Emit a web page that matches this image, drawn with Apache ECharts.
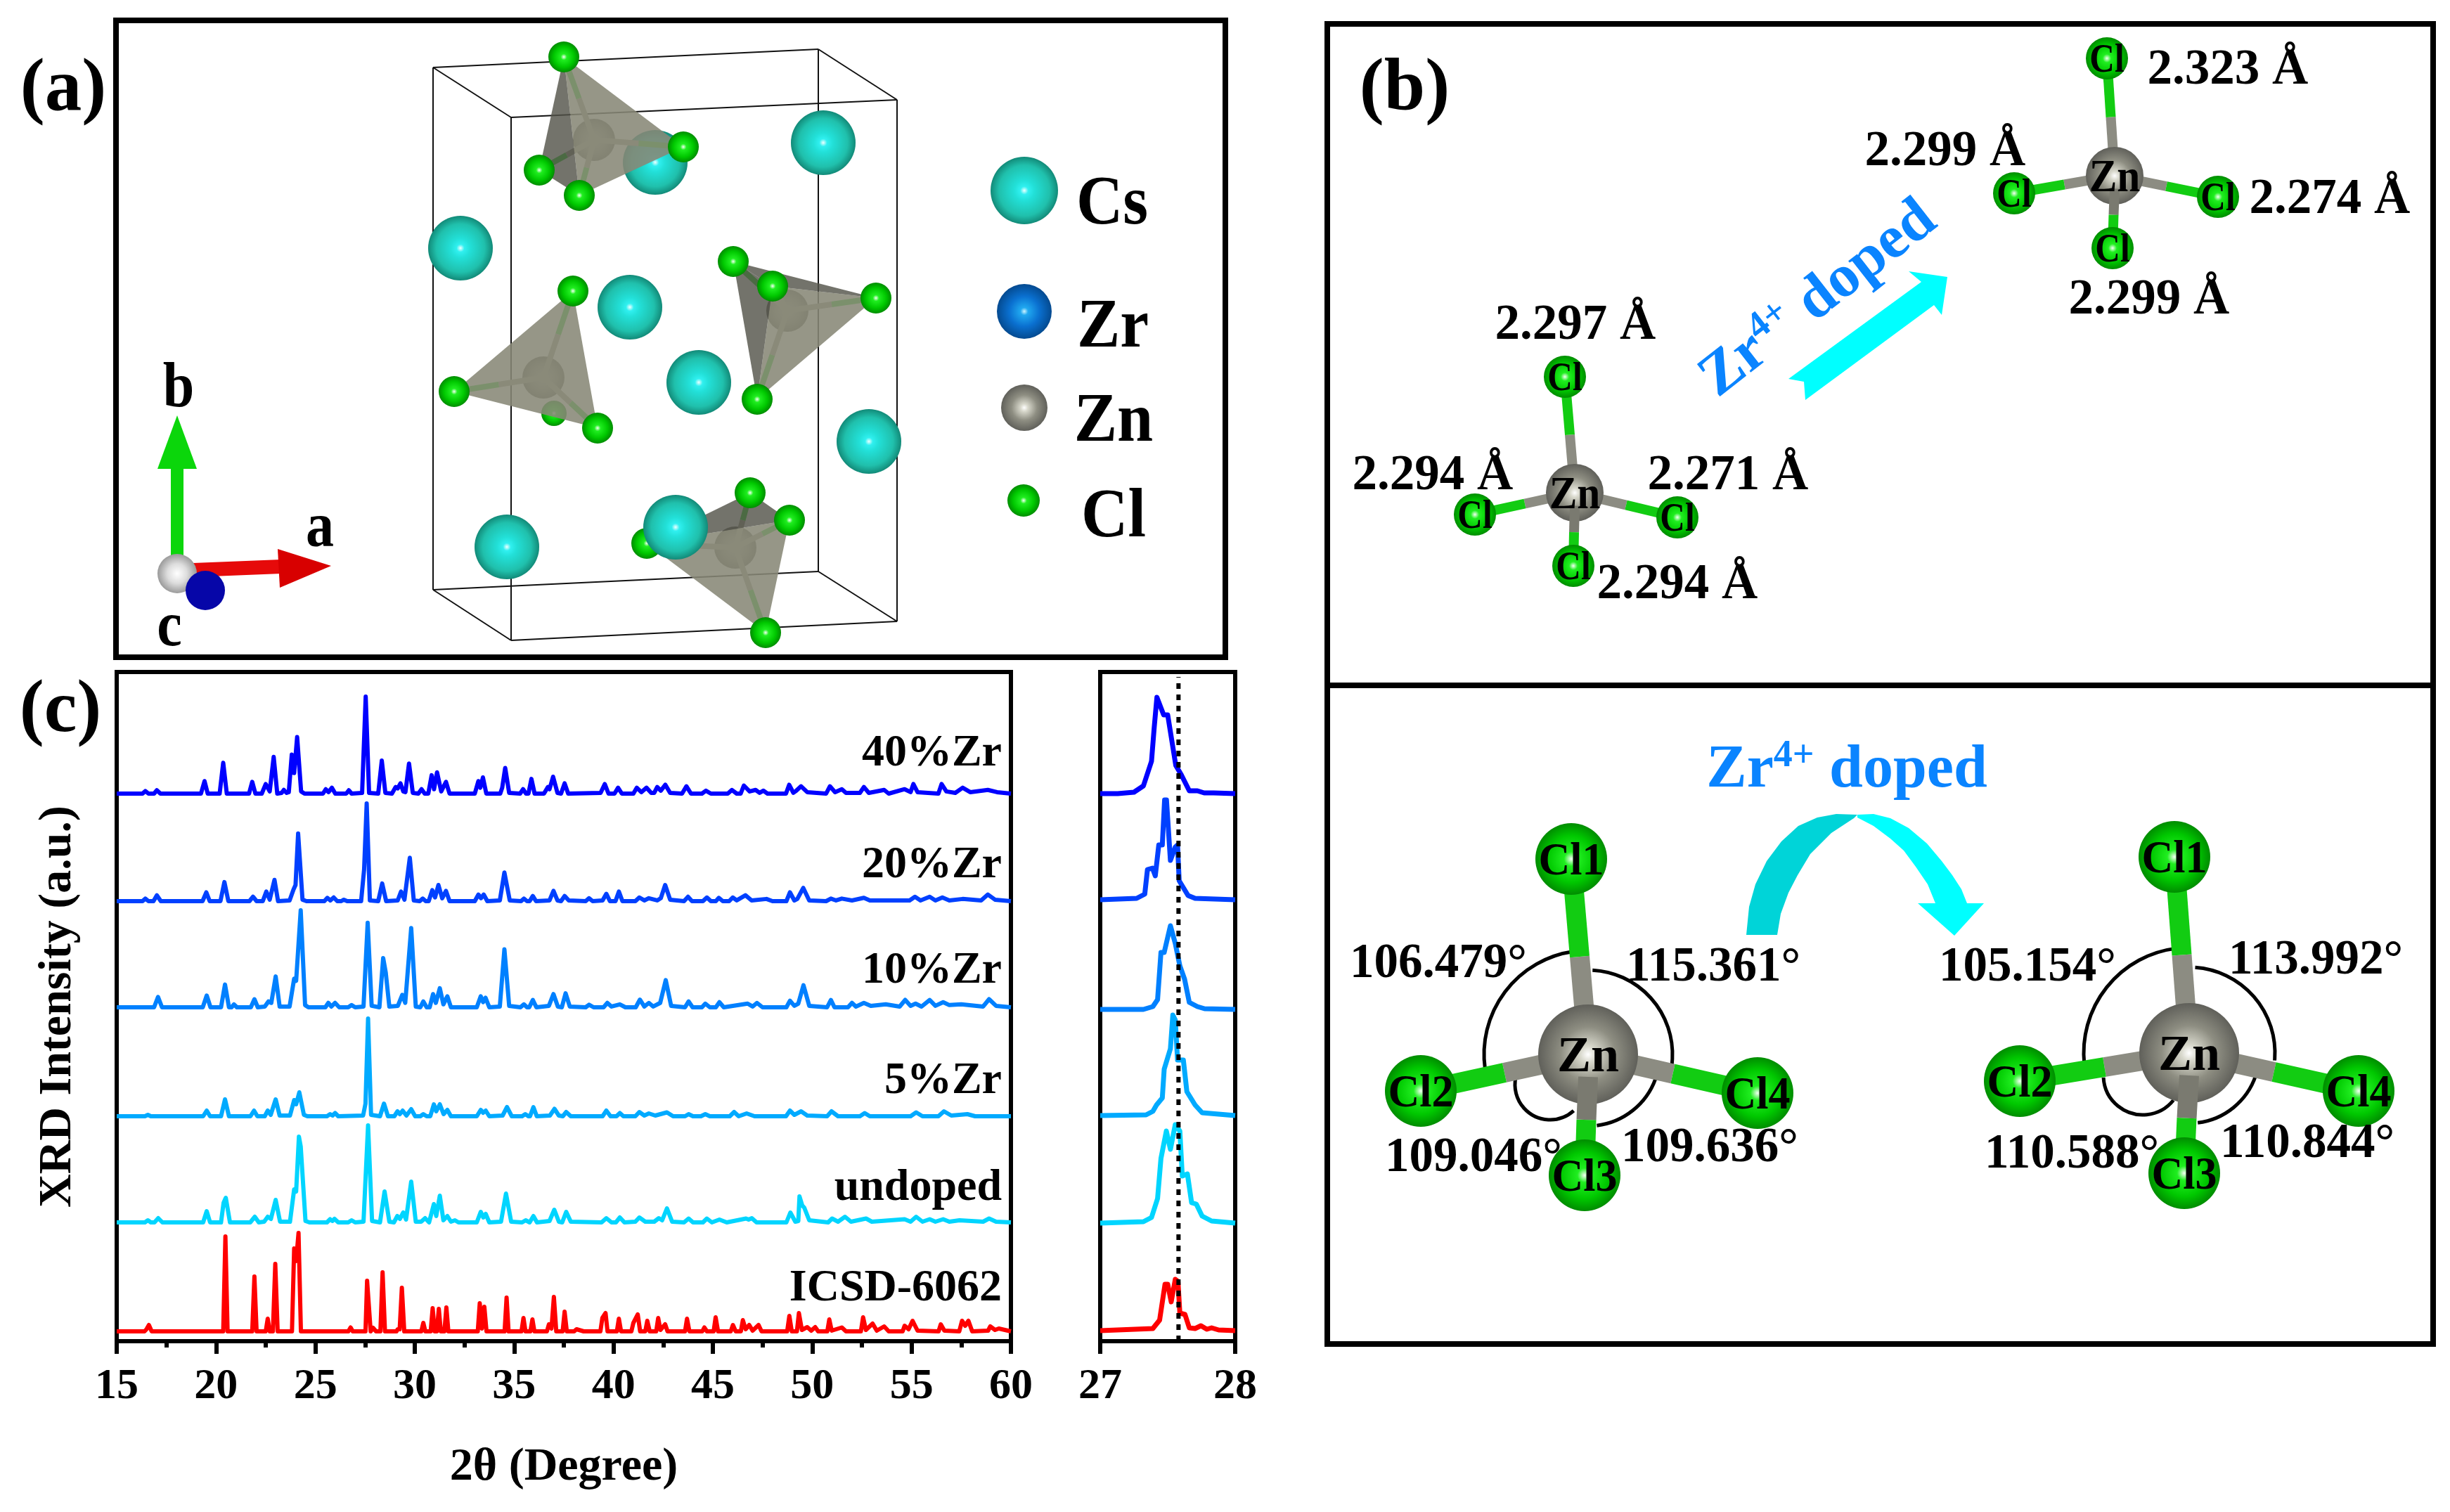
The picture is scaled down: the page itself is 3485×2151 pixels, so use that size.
<!DOCTYPE html>
<html><head><meta charset="utf-8">
<style>html,body{margin:0;padding:0;background:#fff}#c{width:3485px;height:2151px}</style>
<script src="https://cdn.jsdelivr.net/npm/echarts@6/dist/echarts.min.js"></script>
</head><body><div id="c"></div>
<script>
// ---------- XRD patterns: flat lists of 2theta, intensity (a.u. above each trace's own baseline)
const xrd40 = [15,0,16.3,0,16.44,3.5,16.6,0,16.88,0,17.02,4.5,17.2,0,19.24,0,19.42,17,19.58,0,20.18,0,20.36,42,20.54,0,21.66,0,21.82,16,21.98,0,22.3,0,22.5,13,22.7,3,22.9,50,23.08,0,23.3,1,23.41,5,23.55,1,23.66,2,23.81,53,23.93,28,24.08,77,24.28,3,24.45,0,25.38,0,25.52,6,25.66,2,25.83,8,26,0,26.55,0,26.68,4.5,26.82,0,27.35,1,27.53,132,27.7,1,28.16,0,28.34,45,28.52,1,28.85,0,29.04,9,29.14,7,29.28,14,29.42,3,29.53,2,29.71,41,29.9,1,30.18,0,30.34,6,30.5,0,30.68,0,30.85,25,30.97,6,31.12,29,31.33,3,31.57,16,31.75,0,33.02,0,33.2,17,33.3,8,33.43,22,33.6,0,34.3,0,34.4,8,34.55,35,34.75,1,35.3,0,35.45,6,35.6,0,35.72,0,35.87,20,36.03,0,36.5,0,36.7,9,36.78,6,36.96,23,37.18,1,37.36,0,37.54,14,37.72,0,39.35,1,39.56,13,39.75,0,40.05,0,40.23,8,40.42,0,41,0,41.17,8,41.4,2,41.66,8,41.9,1,42.05,1,42.2,9,42.38,4,42.61,12,42.85,1,43.45,0,43.67,10,43.9,0,44.45,0,44.65,4,44.9,0,45.75,0,45.96,5,46.2,0,46.4,0,46.56,11,46.85,3,47.15,5,47.35,1,47.54,4,47.75,0,48.68,0,48.84,12,49.05,1,49.2,4,49.44,10,49.75,2,50.7,0,50.89,10,51.15,2,51.49,6,51.7,1,52.4,1,52.6,9,52.85,1,53.62,5,53.85,0,54.65,6,54.95,2,55.09,13,55.3,2,56.35,0,56.51,13,56.75,3,57.2,1,57.57,8,57.95,2,58.84,5,59.3,2,60,0];
const xrd20 = [15,0,16.3,0,16.44,3.5,16.6,0,16.85,0,17.02,8,17.22,0,19.32,0,19.51,12,19.68,0,20.22,0,20.42,26,20.62,0,21.68,0,21.86,6,22.04,0,22.35,0,22.53,13,22.7,2,22.94,29,23.12,0,23.7,1,23.9,16,24,22,24.13,92,24.35,2,24.55,0,25.45,0,25.6,4.5,25.75,1,25.92,5,26.1,0,26.3,0,26.43,2,26.6,0,27.3,0,27.45,43,27.58,133,27.74,1,28.16,0,28.36,24,28.56,0,29.14,1,29.31,13,29.48,2,29.75,59,29.95,1,30.25,0,30.4,3.5,30.55,0,30.7,0,30.88,15,31.02,5,31.19,22,31.38,4,31.57,14,31.75,0,33.02,0,33.2,9,33.33,4,33.47,9,33.65,0,34.28,1,34.51,39,34.78,1,35.35,0,35.49,3.5,35.65,0,35.78,0,35.94,7,36.1,0,36.78,1,36.98,14,37.18,1,37.36,0,37.54,7,37.75,1,38.6,0,38.77,4,38.95,0,39.45,1,39.64,10,39.82,0,40.1,0,40.27,13,40.45,0,41.1,0,41.3,5,41.55,1,41.78,4,42.2,1,42.38,4,42.6,22,42.85,2,43.55,0,43.75,6,43.95,0,44.5,0,44.7,5,44.9,0,45.15,0,45.3,4.5,45.5,0,45.82,0,46,5,46.2,1,46.64,8,46.95,1,47.7,3,48,0,48.7,0,48.88,12,49.1,1,49.25,3,49.55,18,49.85,1,50.7,0,50.94,3.5,51.2,1,51.49,3.5,52,1,52.6,4.5,52.9,1,54.9,1,55.17,6,55.45,1,55.91,6,56.2,1,56.55,5,56.9,1,57.57,3,58.5,1,58.84,9,59.2,2,60,0];
const xrd10 = [15,0,16.88,0,17.08,14,17.28,0,19.33,0,19.53,16,19.72,0,20.25,0,20.45,31,20.65,0,20.78,0,20.9,4,21.05,0,21.75,0,21.93,11,22.1,0,22.45,1,22.64,8,22.78,6,23,42,23.2,1,23.7,1,23.93,39,24.03,36,24.26,132,24.48,3,24.65,0,25.5,0,25.65,6,25.8,1,25.99,6,26.2,0,26.65,0,26.82,3,27,0,27.42,1,27.63,115,27.83,2,28.22,0,28.41,67,28.54,47,28.72,1,29.15,2,29.37,17,29.52,6,29.82,108,30.05,1,30.28,0,30.43,8,30.6,0,30.75,0,30.92,18,31.06,6,31.26,26,31.44,4,31.64,15,31.82,0,33.12,0,33.32,15,33.44,7,33.56,13,33.75,0,34.28,1,34.51,79,34.75,2,35.32,0,35.49,4,35.65,0,35.76,0,35.94,10,36.12,0,36.75,2,36.98,18,37.2,1,37.4,0,37.59,19,37.8,1,38.6,0,38.77,3.5,39,0,39.5,0,39.69,6,39.9,1,40.32,4,40.6,0,41.12,0,41.33,10.5,41.55,1,41.78,6,42,1,42.35,6,42.63,37,42.9,2,43.6,0,43.78,8,43.98,0,44.45,0,44.62,5,44.85,0,45.15,0,45.33,7,45.55,0,46.75,5,47,1,47.22,6,47.5,0,48.7,0,48.88,9,49.1,2,49.3,5,49.56,30,49.85,2,50.75,0,50.94,10,51.12,0,51.8,0,52,6,52.2,1,52.6,6,52.95,2,53.7,4,54.4,1,54.68,10,54.95,2,55.2,5,55.5,1,55.91,10,56.2,2,56.59,7,56.9,3,57.5,4,58.6,1,58.9,11,59.25,2,60,0];
const xrd05 = [15,0,16.42,0,16.57,2,16.72,0,19.35,0,19.53,8,19.7,0,20.25,0,20.45,24,20.65,0,21.73,0,21.91,8,22.08,0,22.45,0,22.6,8,22.75,2,23,24,23.2,1,23.72,1,23.93,23,24.03,17,24.19,34,24.42,2,24.6,0,25.58,0,25.74,3,25.86,1,25.99,4.5,26.15,0,27.4,1,27.52,18,27.65,139,27.8,2,28.25,0,28.45,18,28.65,0,28.97,0,29.13,7,29.25,3,29.39,8,29.58,1,29.82,10,30.02,0,30.28,0,30.43,3,30.6,0,30.78,0,30.96,17,31.08,7,31.26,17,31.45,3,31.64,9,31.82,0,33.12,0,33.32,9,33.44,5,33.57,8,33.75,0,34.42,1,34.64,13,34.88,0,35.4,0,35.56,3,35.72,0,35.8,0,35.97,13,36.14,0,36.8,1,37.03,10.5,37.25,1,37.45,0,37.62,6,37.85,0,39.45,0,39.64,8,39.85,0,40.15,0,40.32,4.5,40.5,0,41.1,0,41.3,6,41.55,1,41.78,4,42.1,1,42.69,5.5,43,0,43.6,0,43.78,3,44,0,44.4,0,44.62,3,44.85,0,45.85,0,46.07,6,46.3,0,46.7,4,47.1,0,48.68,0,48.88,8,49.1,2,49.44,7,49.75,1,50.75,0,50.97,7,51.3,0,52.4,0,52.64,4.5,52.9,0,54.95,0,55.23,5.5,55.55,0,56.35,0,56.63,7,57,1,57.81,3,58.2,0,60,0];
const xrdUn = [15,0,16.42,0,16.57,3,16.72,0,16.9,0,17.09,6,17.3,0,19.35,0,19.53,16,19.7,0,20.25,0,20.38,28,20.49,35,20.7,0,21.72,0,21.95,8,22.15,0,22.42,1,22.6,8,22.76,5,23,32,23.22,1,23.72,1,23.93,47,24.03,44,24.17,122,24.26,108,24.5,2,24.7,0,25.58,0,25.74,4.5,25.85,2,25.96,5,26.15,0,26.65,0,26.82,3,27,0,27.42,1,27.65,138,27.85,2,28.25,0,28.48,44,28.72,1,28.95,0,29.12,9,29.25,5,29.42,14,29.56,4,29.82,58,30.05,1,30.32,1,30.52,6,30.72,0,30.96,26,31.08,9,31.26,38,31.44,3,31.64,9,31.82,1,32.02,3,32.2,0,33.12,0,33.32,15,33.45,7,33.57,12,33.75,0,34.34,1,34.59,41,34.85,1,35.4,0,35.58,3,35.78,0,35.97,9,36.15,0,36.78,2,37.02,18,37.25,1,37.42,0,37.62,15,37.85,1,39.4,0,39.64,6,39.9,0,40.12,0,40.32,7,40.55,0,41.1,1,41.3,7,41.6,1,42.05,1,42.28,6,42.45,3,42.69,20,42.95,1,43.55,0,43.78,5.5,44,0,44.5,0,44.7,5.5,44.95,0,45.33,4,45.7,0,46.67,5.5,46.8,4,46.96,6,47.2,0,48.7,0,48.9,14,49.15,1,49.3,2,49.36,37,49.5,24,49.6,21,49.85,3,50.8,0,51,5.5,51.3,1,51.65,8,51.95,1,52.71,5.5,53,1,54.65,4.5,54.95,1,55.23,8,55.55,1,55.91,4.5,56.2,1,56.59,4.5,56.9,1,57.41,3,58.6,1,58.9,5.5,59.25,1,60,0];
const xrdRef = [15,0,16.4,0,16.5,3,16.62,9,16.76,0,20.36,0,20.47,135,20.58,0,21.82,0,21.93,78,22.04,0,22.5,0,22.6,18,22.7,0,22.86,0,22.98,96,23.1,0,23.82,0,23.93,118,24.03,100,24.15,140,24.27,0,26.66,0,26.77,5.5,26.88,0,27.52,0,27.6,72,27.65,74,27.78,0,27.9,5,28.05,0,28.27,0,28.38,84,28.5,0,29.08,0,29.14,3,29.24,3,29.35,62,29.47,0,30.33,0,30.43,12,30.53,0,30.8,0,30.9,33,31,0,31.11,0,31.21,32,31.31,0,31.49,0,31.59,34,31.69,0,33.17,0,33.27,40,33.38,4,33.5,35,33.61,0,34.52,0,34.62,48,34.72,0,35.37,0,35.47,19,35.57,0,35.82,0,35.92,17,36.02,0,36.65,0,36.75,10,36.88,4,37,49,37.12,0,37.44,0,37.54,28,37.65,0,38.02,0,38.14,3,38.5,0,39.34,0,39.44,19,39.6,26,39.7,0,40.17,0,40.27,18,40.38,0,40.9,0,41,12,41.22,24,41.34,0,41.6,0,41.7,15,41.82,0,42.15,0,42.25,19,42.36,2,42.6,10,42.72,0,43.6,0,43.7,18,43.82,0,44.47,0,44.57,5.5,44.7,0,45.04,0,45.14,20,45.26,0,45.9,0,46.01,9,46.15,0,46.41,0,46.51,16,46.65,3,46.83,9,47,1,47.3,9,47.45,0,48.74,0,48.85,22,48.97,0,49.23,0,49.33,26,49.48,2,49.75,6,49.95,1,50.15,6,50.3,0,50.76,0,50.86,17,50.98,1,51.49,5.5,51.7,0,52.45,0,52.56,20,52.7,2,53.04,11,53.25,1,53.62,7,53.85,0,54.55,0,54.65,8,54.85,3,55.05,15,55.3,1,56.36,0,56.47,10,56.65,1,57.4,0,57.54,15,57.7,8,57.86,15,58.05,0,58.85,1,58.96,7,59.2,2,59.39,4,60,0];
// zoomed 27-28 degree window
const zoom40 = [27,0,27.13,0,27.25,2,27.32,11,27.38,46,27.4,94,27.42,137,27.47,112,27.5,112,27.56,40,27.6,27,27.66,4,27.72,4,27.77,1,27.84,1,28,0];
const zoom20 = [27,0,27.27,2,27.33,8,27.35,43,27.387,45,27.408,34,27.434,78,27.46,78,27.477,142,27.491,142,27.52,56,27.556,75,27.573,78,27.585,27,27.651,6,27.703,2,28,0];
const zoom10 = [27,0,27.32,0,27.39,4,27.425,14,27.45,81,27.474,81,27.52,119,27.556,94,27.59,62,27.625,43,27.66,10,27.72,4,27.773,1,28,0];
const zoom05 = [27,0,27.34,1,27.39,6,27.417,15,27.46,25,27.474,66,27.52,95,27.538,143,27.556,136,27.573,79,27.616,79,27.642,34,27.703,15,27.755,4,28,0];
const zoomUn = [27,0,27.32,2,27.38,8,27.425,35,27.45,92,27.49,131,27.52,105,27.556,140,27.59,131,27.608,67,27.646,70,27.677,29,27.712,27,27.755,10,27.825,3,28,0];
const zoomRef = [27,0,27.39,3,27.44,15,27.48,66,27.5,66,27.526,41,27.556,73,27.576,70,27.59,25,27.628,23,27.66,4,27.703,3,27.746,7,27.79,2,27.825,4,27.877,1,28,0];
// ---------- vertical stacking of traces
const traceNames = ['40%Zr','20%Zr','10%Zr','5%Zr','undoped','ICSD-6062'];
const traceColors = ['#0000ff','#0040ff','#0080ff','#00aaff','#00d5ff','#ff0000'];
const mainOffsets = [779,626,475,320,169,14];
const mainGain = [1.045,1.045,1.045,1,1,1];
const zoomOffsets = [779,628,472,321,168,15];
const mainTraces = [xrd40,xrd20,xrd10,xrd05,xrdUn,xrdRef];
const zoomTraces = [zoom40,zoom20,zoom10,zoom05,zoomUn,zoomRef];
const refLine = 27.58;
// ---------- text labels: text, x, y
const traceLabels = [['40%Zr',1070],['20%Zr',1229],['10%Zr',1379],['5%Zr',1536],['undoped',1688],['ICSD-6062',1831]];
const panelLabels = [['(a)',90,121],['(b)',1998,121],['(c)',86,1005]];
const legendLabels = [['Cs',1582,285],['Zr',1583,460],['Zn',1584,594],['Cl',1584,730]];
const axisLetters = [['b',254,548],['a',455,747],['c',241,888]];
const bondLengths = [['2.323 Å',3169,95],['2.299 Å',2767,211],['2.274 Å',3314,279],['2.299 Å',3057,422],['2.297 Å',2241,458],['2.294 Å',2038,672],['2.271 Å',2458,672],['2.294 Å',2386,827]];
const bondAngles = [['106.479°',2046,1367],['115.361°',2437,1372],['109.046°',2096,1643],['109.636°',2432,1629],['105.154°',2884,1372],['113.992°',3294,1362],['110.588°',2947,1638],['110.844°',3282,1623]];
// ---------- illustration (panels a, b): atoms on a full-page pixel scale
const panels = [[165,29,1743,935],[1888,34,3461,975],[1888,975,3461,1912]];
const cell = [[616,96],[1164,70],[1276,142],[727,167],[616,839],[1164,813],[1276,884],[727,911]];
const csBack = [[932,231]];
const csFront = [[1171,203],[655,353],[896,437],[994,544],[1236,628],[721,778]];
const csTop = [[961,750]];
const tetra = [
 {zn:[845,199],cl:[[802,81],[972,209],[767,242],[824,278]],dark:[[0,2,3]],light:[[0,1,3]]},
 {zn:[1120,442],cl:[[1043,372],[1099,407],[1246,424],[1077,568]],dark:[[0,1,2],[0,1,3]],light:[[1,2,3]]},
 {zn:[773,537],cl:[[815,414],[646,557],[850,609]],hidden:[788,588],dark:[],light:[[0,1,2]]},
 {zn:[1046,779],cl:[[1067,701],[1123,740],[920,773],[1089,900]],dark:[[0,1,2]],light:[[2,1,3]]}
];
const molSmall = [{zn:[2240,701],cl:[[2226,536],[2098,732],[2386,736],[2238,805]]},{zn:[3008,250],cl:[[2997,83],[2865,275],[3155,280],[3005,353]]}];
const molLarge = [{zn:[2259,1500],cl:[[2235,1222],[2021,1552],[2500,1555],[2254,1672]]},{zn:[3114,1498],cl:[[3093,1219],[2873,1538],[3355,1552],[3107,1669]]}];
const angleArcs = [[2259,1500,148,172,262],[2259,1500,120,-87,8],[2259,1500,102,20,83],[2205,1543,50,48,193],[3114,1498,150,174,263],[3114,1498,122,-86,5],[3114,1498,100,19,83],[3048,1530,56,39,177]];
const arrowUp = [[2544,539],[2733,401],[2715,386],[2770,394],[2762,448],[2751,434],[2568,569],[2566,543]];
const curveLeft = [[2484,1330],[2488,1290],[2497,1258],[2513,1225],[2534,1197],[2558,1175],[2585,1163],[2612,1158],[2642,1159],[2637,1164],[2605,1185],[2575,1215],[2557,1245],[2544,1270],[2533,1300],[2528,1330]];
const curveRight = [[2642,1159],[2665,1158],[2689,1164],[2715,1178],[2741,1200],[2762,1225],[2777,1245],[2790,1265],[2798,1285],[2822,1285],[2780,1331],[2728,1285],[2753,1285],[2742,1258],[2725,1233],[2708,1210],[2689,1193],[2665,1175],[2642,1163]];

const SERIF = '"Liberation Serif","Times New Roman",serif';
function pairs(flat, off, gain){const o=[];for(let i=0;i<flat.length;i+=2)o.push([flat[i],flat[i+1]*gain+off]);return o;}
function rg(stops){return {type:'radial',x:0.5,y:0.5,r:0.5,colorStops:stops.map(s=>({offset:s[0],color:s[1]}))};}
const G = {
 cs: rg([[0,'#f0ffff'],[0.12,'#30f0f0'],[0.3,'#22e0d8'],[0.75,'#20c0ac'],[1,'#128a78']]),
 zr: rg([[0,'#d0f4ff'],[0.14,'#20a8f0'],[0.55,'#0a70d0'],[1,'#044a90']]),
 zn: rg([[0,'#ffffff'],[0.16,'#d8d8cc'],[0.55,'#8e8e82'],[1,'#60605a']]),
 znD: rg([[0,'#a8a89c'],[0.6,'#85857a'],[1,'#5e5e56']]),
 cl: rg([[0,'#f4fff4'],[0.2,'#20ee20'],[0.65,'#00c800'],[1,'#008c00']]),
 arr: rg([[0,'#ffffff'],[0.5,'#dddddd'],[1,'#9a9a9a']])
};
const scene = [];
panels.forEach(p=>scene.push({k:'rect',p,w:8}));
const edges=[[0,1],[1,2],[2,3],[3,0],[4,5],[5,6],[6,7],[7,4],[0,4],[1,5],[2,6],[3,7]];
edges.forEach(e=>scene.push({k:'line',a:cell[e[0]],b:cell[e[1]],w:2,c:'#111'}));
csBack.forEach(p=>scene.push({k:'atom',p,r:46,f:G.cs}));
csFront.forEach(p=>scene.push({k:'atom',p,r:46,f:G.cs}));
tetra.forEach(t=>{
 scene.push({k:'atom',p:t.zn,r:30,f:G.znD});
 if(t.hidden)scene.push({k:'atom',p:t.hidden,r:18,f:G.cl});
 t.cl.forEach(c=>{const m=[(c[0]+t.zn[0])/2,(c[1]+t.zn[1])/2];scene.push({k:'line',a:t.zn,b:m,w:8,c:'#9a9a8c'});scene.push({k:'line',a:m,b:c,w:8,c:'#22cc22'});});
 t.light.forEach(f=>scene.push({k:'poly',pts:f.map(i=>t.cl[i]),f:'rgba(136,136,118,0.88)'}));
 t.dark.forEach(f=>scene.push({k:'poly',pts:f.map(i=>t.cl[i]),f:'rgba(84,84,74,0.82)'}));
 t.cl.forEach(c=>scene.push({k:'atom',p:c,r:22,f:G.cl}));
});
csTop.forEach(p=>scene.push({k:'atom',p,r:46,f:G.cs}));
// crystal legend atoms
[[1457,271,48,G.cs],[1457,443,39,G.zr],[1457,580,33,G.zn],[1456,712,23,G.cl]].forEach(a=>scene.push({k:'atom',p:[a[0],a[1]],r:a[2],f:a[3]}));
// compass
scene.push({k:'line',a:[252,796],b:[252,667],w:18,c:'#0bd60b'});
scene.push({k:'poly',pts:[[252,591],[280,667],[224,667]],f:'#0bd60b'});
scene.push({k:'line',a:[275,811],b:[400,806],w:20,c:'#e60a0a'});
scene.push({k:'poly',pts:[[471,805],[395,781],[398,836]],f:'#d80000'});
scene.push({k:'atom',p:[252,816],r:28,f:G.arr});
scene.push({k:'atom',p:[292,840],r:28,f:'#0606a8'});
function mol(m,bw,rz,rc){
 const order=[1,2,0];
 order.forEach(i=>{const c=m.cl[i],mid=[(c[0]+m.zn[0])/2,(c[1]+m.zn[1])/2];scene.push({k:'line',a:m.zn,b:mid,w:bw,c:'#8c8c82'});scene.push({k:'line',a:mid,b:c,w:bw,c:'#12cc12'});});
 scene.push({k:'atom',p:m.zn,r:rz,f:G.zn});
 const c=m.cl[3],s=[m.zn[0],m.zn[1]+rz*0.45],mid=[(c[0]+m.zn[0])/2,(c[1]+m.zn[1])/2+rz*0.1];
 scene.push({k:'line',a:s,b:mid,w:bw,c:'#7a7a70'});scene.push({k:'line',a:mid,b:c,w:bw,c:'#12cc12'});
 m.cl.forEach(p=>scene.push({k:'atom',p,r:rc,f:G.cl}));
}
molSmall.forEach(m=>mol(m,14,41,30));
angleArcs.forEach(a=>scene.push({k:'arc',a}));
molLarge.forEach(m=>mol(m,28,71,51));
scene.push({k:'poly',pts:arrowUp,f:'#00ffff'});
scene.push({k:'poly',pts:curveLeft,f:'#00d4d8'});
scene.push({k:'poly',pts:curveRight,f:'#00ffff'});

function renderItem(params, api){
 const s=scene[params.dataIndex], C=p=>api.coord(p);
 if(s.k==='rect'){const a=C([s.p[0],s.p[1]]),b=C([s.p[2],s.p[3]]);return {type:'rect',shape:{x:a[0],y:a[1],width:b[0]-a[0],height:b[1]-a[1]},style:{fill:'none',stroke:'#000',lineWidth:s.w}};}
 if(s.k==='line'){const a=C(s.a),b=C(s.b);return {type:'line',shape:{x1:a[0],y1:a[1],x2:b[0],y2:b[1]},style:{stroke:s.c,lineWidth:s.w}};}
 if(s.k==='poly')return {type:'polygon',shape:{points:s.pts.map(C)},style:{fill:s.f}};
 if(s.k==='atom'){const a=C(s.p);return {type:'circle',shape:{cx:a[0],cy:a[1],r:s.r},style:{fill:s.f}};}
 if(s.k==='arc'){const a=C([s.a[0],s.a[1]]);return {type:'arc',shape:{cx:a[0],cy:a[1],r:s.a[2],startAngle:s.a[3]*Math.PI/180,endAngle:s.a[4]*Math.PI/180,clockwise:true},style:{fill:'none',stroke:'#000',lineWidth:5}};}
}
function txt(t,x,y,size,sx,extra){return Object.assign({type:'text',x,y:y+size*0.075,scaleX:sx||1,z:200,silent:true,style:{text:t,font:'bold '+size+'px '+SERIF,fill:'#000',align:'center',verticalAlign:'middle'}},extra||{});}
const gfx=[];
panelLabels.forEach(l=>gfx.push(txt(l[0],l[1],l[2],105)));
legendLabels.forEach(l=>gfx.push(txt(l[0],l[1],l[2],100,0.92)));
axisLetters.forEach(l=>gfx.push(txt(l[0],l[1],l[2],90,0.89)));
bondLengths.forEach(l=>gfx.push(txt(l[0],l[1],l[2],71)));
bondAngles.forEach(l=>gfx.push(txt(l[0],l[1],l[2],69)));
traceLabels.forEach(l=>{const t=txt(l[0],1425,l[1],64);t.style.align='right';t.y=l[1]+2;gfx.push(t);});
molSmall.forEach(m=>{gfx.push(txt('Zn',m.zn[0],m.zn[1],66,0.9));m.cl.forEach(c=>gfx.push(txt('Cl',c[0],c[1],58,0.85)));});
molLarge.forEach(m=>{gfx.push(txt('Zn',m.zn[0],m.zn[1],72));m.cl.forEach((c,i)=>gfx.push(txt('Cl'+[1,2,4,3][i],c[0],c[1],66,0.94)));});
function doped(x,y,rot){return {type:'text',x,y,z:200,rotation:rot,silent:true,style:{text:'{m|Zr}{s|4+}{m| doped}',align:'center',verticalAlign:'middle',rich:{m:{font:'bold 86px '+SERIF,fill:'#0a84ff',lineHeight:96,verticalAlign:'middle'},s:{font:'bold 54px '+SERIF,fill:'#0a84ff',lineHeight:60,verticalAlign:'top'}}}};}
gfx.push(doped(2627,1097,0));
gfx.push(doped(2587,426,38*Math.PI/180));

const axisText={color:'#000',fontFamily:SERIF,fontWeight:'bold',fontSize:62};
const series=[];
mainTraces.forEach((t,i)=>series.push({name:traceNames[i],type:'line',xAxisIndex:0,yAxisIndex:0,data:pairs(t,mainOffsets[i],mainGain[i]),showSymbol:false,symbol:'none',lineStyle:{color:traceColors[i],width:6,join:'round'},silent:true,z:3}));
zoomTraces.forEach((t,i)=>series.push({name:traceNames[i]+' zoom',type:'line',xAxisIndex:1,yAxisIndex:1,data:pairs(t,zoomOffsets[i],1),showSymbol:false,symbol:'none',lineStyle:{color:traceColors[i],width:7,join:'round'},silent:true,z:3}));
series.push({name:'ref',type:'line',xAxisIndex:1,yAxisIndex:1,data:[[refLine,0],[refLine,945]],showSymbol:false,symbol:'none',lineStyle:{color:'#000',width:6,type:[8,8]},silent:true,z:5});
series.push({name:'scene',type:'custom',xAxisIndex:2,yAxisIndex:2,coordinateSystem:'cartesian2d',data:scene.map(()=>[0,0]),renderItem,silent:true,clip:false,z:10});

const chart=echarts.init(document.getElementById('c'),null,{renderer:'canvas',width:3485,height:2151});
chart.setOption({
 animation:false,backgroundColor:'#fff',
 grid:[
  {left:166,top:956,width:1272,height:952,show:true,borderColor:'#000',borderWidth:6,backgroundColor:'#fff'},
  {left:1565,top:956,width:192,height:952,show:true,borderColor:'#000',borderWidth:6,backgroundColor:'#fff'},
  {left:0,top:0,width:3485,height:2151}
 ],
 xAxis:[
  {type:'value',gridIndex:0,min:15,max:60,interval:5,name:'2θ (Degree)',nameLocation:'middle',nameGap:147,nameTextStyle:Object.assign({},axisText,{fontSize:66}),
   axisLine:{onZero:false,lineStyle:{color:'#000',width:6}},axisTick:{length:18,lineStyle:{color:'#000',width:6}},minorTick:{show:true,splitNumber:2,length:9,lineStyle:{color:'#000',width:6}},splitLine:{show:false},axisLabel:Object.assign({},axisText,{margin:34,showMinLabel:true,showMaxLabel:true})},
  {type:'value',gridIndex:1,min:27,max:28,interval:1,
   axisLine:{onZero:false,lineStyle:{color:'#000',width:6}},axisTick:{length:18,lineStyle:{color:'#000',width:6}},splitLine:{show:false},axisLabel:Object.assign({},axisText,{margin:34,showMinLabel:true,showMaxLabel:true})},
  {type:'value',gridIndex:2,min:0,max:3485,show:false}
 ],
 yAxis:[
  {type:'value',gridIndex:0,min:0,max:952,name:'XRD Intensity (a.u.)',nameLocation:'middle',nameGap:50,nameRotate:90,nameTextStyle:Object.assign({},axisText,{fontSize:66}),
   axisLine:{show:true,lineStyle:{color:'#000',width:6}},axisTick:{show:false},axisLabel:{show:false},splitLine:{show:false}},
  {type:'value',gridIndex:1,min:0,max:952,axisLine:{show:true,lineStyle:{color:'#000',width:6}},axisTick:{show:false},axisLabel:{show:false},splitLine:{show:false}},
  {type:'value',gridIndex:2,min:0,max:2151,inverse:true,show:false}
 ],
 series,
 graphic:{elements:gfx}
});
</script></body></html>
